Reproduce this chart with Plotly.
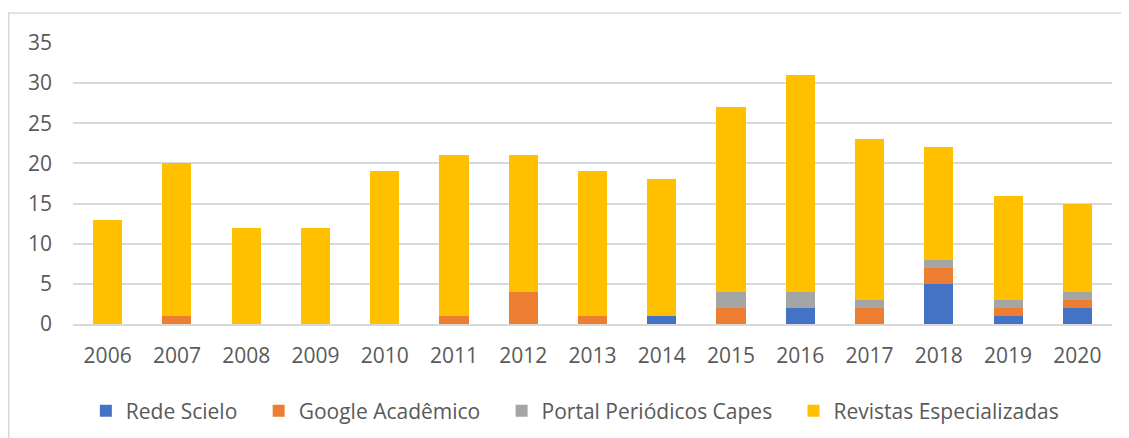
import plotly.graph_objects as go

years = ["2006", "2007", "2008", "2009", "2010", "2011", "2012", "2013",
         "2014", "2015", "2016", "2017", "2018", "2019", "2020"]
rede_scielo = [0, 0, 0, 0, 0, 0, 0, 0, 1, 0, 2, 0, 5, 1, 2]
google_academico = [0, 1, 0, 0, 0, 1, 4, 1, 0, 2, 0, 2, 2, 1, 1]
portal_capes = [0, 0, 0, 0, 0, 0, 0, 0, 0, 2, 2, 1, 1, 1, 1]
revistas = [13, 19, 12, 12, 19, 20, 17, 18, 17, 23, 27, 20, 14, 13, 11]
y_ticks = [0, 5, 10, 15, 20, 25, 30, 35]

series_names = ["Rede Scielo", "Google Acadêmico", "Portal Periódicos Capes", "Revistas Especializadas"]
series_values = [rede_scielo, google_academico, portal_capes, revistas]
series_colors = ["#4472C4", "#ED7D31", "#A5A5A5", "#FFC000"]

pad = "\u00a0" * 3  # extra spacing between legend entries

fig = go.Figure()
for i, (name, vals, color) in enumerate(zip(series_names, series_values, series_colors)):
    label = name + (pad if i < len(series_names) - 1 else "")
    fig.add_trace(go.Bar(
        x=years, y=vals, name=label,
        marker=dict(color=color, line=dict(width=0)),
    ))

font = "Open Sans, Noto Sans, sans-serif"
# body has an 8px default margin in the page
W, H = 1113, 430
ml, mr, mt, mb = 65, 9, 35, 114
pw, ph = W - ml - mr, H - mt - mb

fig.update_layout(
    width=W, height=H,
    barmode="stack", bargap=0.58,
    plot_bgcolor="white", paper_bgcolor="white",
    margin=dict(l=ml, r=mr, t=mt, b=mb, pad=0, autoexpand=False),
    font=dict(family=font, size=21, color="#595959"),
    showlegend=True,
    legend=dict(orientation="h", x=0.483, xanchor="center", y=-0.31, yanchor="middle",
                font=dict(family=font, size=21, color="#595959"),
                traceorder="normal", itemwidth=30),
    xaxis=dict(showgrid=False, showline=True, linecolor="#D9D9D9", linewidth=1.5,
               ticks="", ticklabelstandoff=12, tickfont=dict(size=21), automargin=False),
    yaxis=dict(range=[0, 35], tickvals=y_ticks, showgrid=True, gridcolor="#D9D9D9",
               gridwidth=1.5, zeroline=False, showline=False, ticks="",
               ticklabelstandoff=20, tickfont=dict(size=21), automargin=False),
    shapes=[
        dict(type="line", xref="paper", yref="paper",
             x0=(0 - ml) / pw, x1=(W - ml) / pw,
             y0=(H - mb - 5) / ph, y1=(H - mb - 5) / ph,
             line=dict(color="#D9D9D9", width=1.5), layer="below"),
        dict(type="line", xref="paper", yref="paper",
             x0=(0.75 - ml) / pw, x1=(0.75 - ml) / pw,
             y0=(H - mb - 5) / ph, y1=(H - mb - H) / ph,
             line=dict(color="#D9D9D9", width=1.5), layer="below"),
    ],
)

fig.write_html("out.html")
